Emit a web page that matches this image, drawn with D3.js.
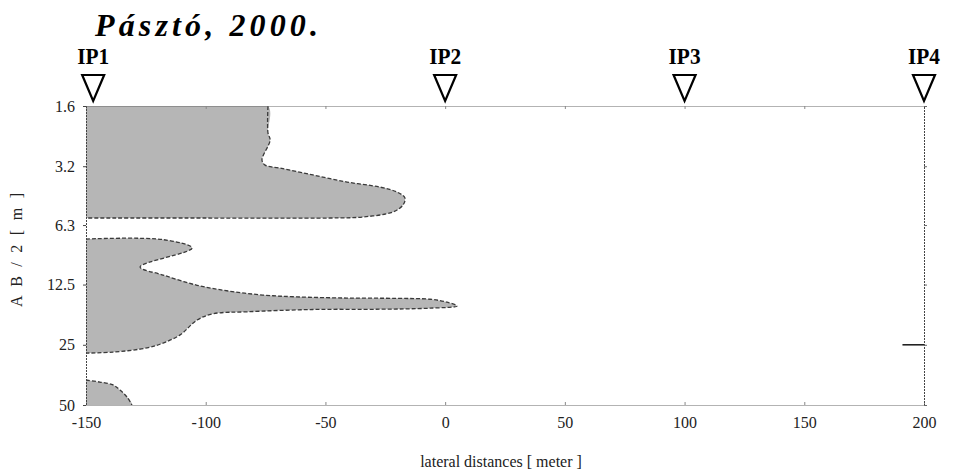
<!DOCTYPE html>
<html>
<head>
<meta charset="utf-8">
<script src="https://d3js.org/d3.v7.min.js"></script>
<style>
  body { margin: 0; background: #fff; }
  text { font-family: "Liberation Serif", "Times New Roman", serif; }
</style>
</head>
<body>
<div id="chart"></div>
<script>
// lateral distance ticks (m) and AB/2 depth ticks (m)
const xTicks = [-150, -100, -50, 0, 50, 100, 150, 200];
const depthTicks = [1.6, 3.2, 6.3, 12.5, 25, 50];
const depthLabels = ["1.6", "3.2", "6.3", "12.5", "25", "50"];

// electrode positions
const ipNames = ["IP1", "IP2", "IP3", "IP4"];
const ipPos = [-147, 0, 100, 200];

// outlines of the shaded zones: [lateral distance, AB/2]
const zoneTop = [[-150, 1.6], [-110, 1.6], [-74, 1.6], [-74, 2.18], [-73.1, 2.37], [-76.5, 2.98], [-75.2, 3.16],
  [-69, 3.27], [-55.2, 3.54], [-41, 3.84], [-27.2, 4.07], [-20.1, 4.31], [-16.8, 4.61],
  [-17.6, 5.0], [-21.8, 5.42], [-34.3, 5.74], [-48.1, 5.81], [-100, 5.81], [-150, 5.81]];
const zoneMid = [[-150, 7.4], [-117.8, 7.45], [-105.7, 8.21], [-127.4, 10.2], [-117.8, 11.2],
  [-103.6, 12.6], [-89.8, 13.5], [-76.1, 14.1], [-61.9, 14.4], [-41, 14.6], [-20.1, 14.65],
  [-6.3, 14.8], [0.8, 15.3], [5, 16.0], [-6.3, 16.4], [-27.2, 16.6], [-55.2, 16.65],
  [-82.7, 17.1], [-97, 17.5], [-103.6, 18.8], [-110.7, 22.3], [-117.8, 24.5], [-124.5, 25.9],
  [-138.7, 27.2], [-150, 27.5]];
const zoneLow = [[-150, 37.5], [-144.2, 38.4], [-138.7, 39.7], [-135.8, 42.1], [-132.9, 45.6],
  [-130.8, 50], [-150, 50]];
const markIP4 = [[191, 25], [200, 25]];

const W = 955, H = 474;
const svg = d3.select("#chart").append("svg").attr("width", W).attr("height", H);

const x = d3.scaleLinear().domain([-150, 200]).range([86, 924]);
const y = d3.scaleLog().domain([1.6, 50]).range([106, 405]);

svg.append("clipPath").attr("id", "plot")
  .append("rect")
  .attr("x", x(-150)).attr("y", y(1.6))
  .attr("width", x(200) - x(-150)).attr("height", y(50) - y(1.6));

// title
svg.append("text")
  .attr("x", 95).attr("y", 36)
  .attr("textLength", 223).attr("lengthAdjust", "spacing")
  .style("font-size", "32px").style("font-weight", "bold").style("font-style", "italic")
  .text("Pásztó, 2000.");

// shaded zones
const line = d3.line().x(d => x(d[0])).y(d => y(d[1])).curve(d3.curveCatmullRom.alpha(0.5));
const zones = svg.append("g").attr("clip-path", "url(#plot)");
[[zoneTop, 2, zoneTop.length], [zoneMid, 0, zoneMid.length], [zoneLow, 0, zoneLow.length - 1]]
  .forEach(([z, a, b]) => {
    zones.append("path")
      .attr("d", line(z) + "Z")
      .attr("fill", "#b6b6b6");
    zones.append("path")
      .attr("d", line(z.slice(a, b)))
      .attr("fill", "none")
      .attr("stroke", "#3a3a3a")
      .attr("stroke-width", 1.3)
      .attr("stroke-dasharray", "4,2");
  });

svg.append("path")
  .attr("d", d3.line().x(d => x(d[0])).y(d => y(d[1]))(markIP4))
  .attr("stroke", "#222").attr("stroke-width", 1.6);

// frame: dotted top / bottom / right, left axis
const xAxisB = d3.axisBottom(x).tickValues(xTicks).tickSize(0).tickPadding(12).tickFormat(d => String(d));
const gB = svg.append("g").attr("transform", "translate(0," + y(50) + ")").call(xAxisB);
gB.select(".domain").attr("stroke", "#666").attr("stroke-dasharray", "1,1");
gB.selectAll("text").style("font-size", "16px").attr("fill", "#222");

const gT = svg.append("g").attr("transform", "translate(0," + y(1.6) + ")")
  .call(d3.axisTop(x).tickValues(xTicks).tickSize(0).tickFormat(""));
gT.select(".domain").attr("stroke", "#666").attr("stroke-dasharray", "1,1");

[gB, gT].forEach((g, i) => {
  g.selectAll(".tick").append("line")
    .attr("y1", 0).attr("y2", i === 0 ? -3 : 3)
    .attr("stroke", "#888");
});

const yAxisL = d3.axisLeft(y).tickValues(depthTicks).tickSize(3).tickPadding(8)
  .tickFormat((d, i) => depthLabels[i]);
const gL = svg.append("g").attr("transform", "translate(" + x(-150) + ",0)").call(yAxisL);
gL.select(".domain").attr("stroke", "#444").attr("stroke-dasharray", "2,1");
gL.selectAll("line").attr("stroke", "#444");
gL.selectAll("text").style("font-size", "16px").attr("fill", "#222");

const gR = svg.append("g").attr("transform", "translate(" + x(200) + ",0)")
  .call(d3.axisRight(y).tickValues(depthTicks).tickSize(3).tickFormat(""));
gR.select(".domain").attr("stroke", "#444").attr("stroke-dasharray", "2,1");
gR.selectAll("line").attr("stroke", "#666");

// electrode markers
const ip = svg.append("g").selectAll("g").data(ipNames).enter().append("g")
  .attr("transform", (d, i) => "translate(" + x(ipPos[i]) + ",0)");
ip.append("text")
  .attr("y", 64).attr("text-anchor", "middle")
  .attr("textLength", 32).attr("lengthAdjust", "spacingAndGlyphs")
  .style("font-size", "23px").style("font-weight", "bold")
  .text(d => d);
ip.append("path")
  .attr("d", "M-11,75 L11,75 L0,101 Z")
  .attr("fill", "none").attr("stroke", "#000").attr("stroke-width", 2.2)
  .attr("stroke-linejoin", "miter");

// axis titles
svg.append("text")
  .attr("x", 501).attr("y", 467).attr("text-anchor", "middle")
  .style("font-size", "16px").attr("fill", "#222")
  .text("lateral distances  [ meter ]");

svg.append("text")
  .attr("transform", "translate(22,250) rotate(-90)")
  .attr("text-anchor", "middle")
  .attr("textLength", 114).attr("lengthAdjust", "spacing")
  .style("font-size", "16px").attr("fill", "#222")
  .text("A B / 2  [ m ]");
</script>
</body>
</html>
